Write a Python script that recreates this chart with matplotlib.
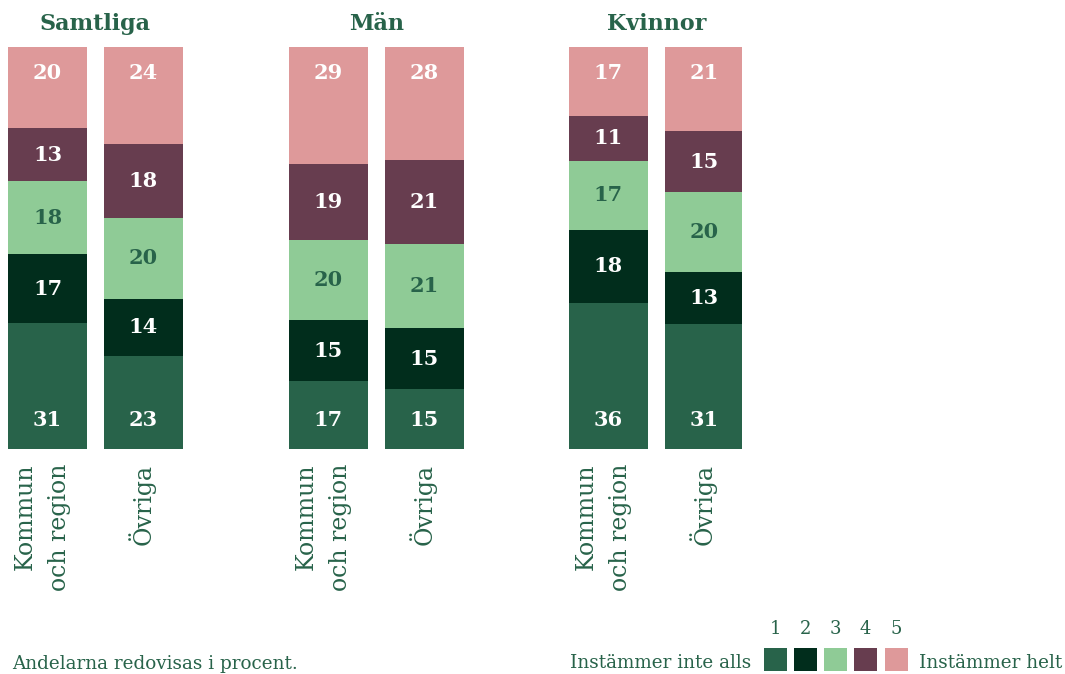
import matplotlib
matplotlib.use("Agg")
import matplotlib.pyplot as plt
from matplotlib.patches import Rectangle
import numpy as np

groups = ["Samtliga", "Män", "Kvinnor"]
bar_labels = ["Kommun\noch region", "Övriga"]
levels = ["1", "2", "3", "4", "5"]
# values per group: [Kommun och region, Övriga], levels 1..5 bottom to top
samtliga = [[31, 17, 18, 13, 20], [23, 14, 20, 18, 24]]
man = [[17, 15, 20, 19, 29], [15, 15, 21, 21, 28]]
kvinnor = [[36, 18, 17, 11, 17], [31, 13, 20, 15, 21]]
data = [samtliga, man, kvinnor]
legend_low = "Instämmer inte alls"
legend_high = "Instämmer helt"
footnote = "Andelarna redovisas i procent."

colors = ["#28634a", "#012d1c", "#8fcb96", "#673d4f", "#de999a"]
text_colors = ["white", "white", "#28634a", "white", "white"]
green = "#28634a"
FONT = "DejaVu Serif"

W, H = 1065, 674
fig = plt.figure(figsize=(W / 100, H / 100), dpi=100)

ax_left, ax_right, ax_top, ax_bottom = 8, 742, 47, 449
ax = fig.add_axes([ax_left / W, 1 - ax_bottom / H, (ax_right - ax_left) / W, (ax_bottom - ax_top) / H])
ax.set_xlim(ax_left, ax_right)
ax.set_ylim(0, 100)
ax.axis("off")

bar_w = 79
group_starts = [8, 289, 569]
bar_step = 95.5
label_shift = [-5, -1.5]

px_per_unit = (ax_bottom - ax_top) / 100.0

for gi, (gname, gvals) in enumerate(zip(groups, data)):
    centers = []
    for bi, vals in enumerate(gvals):
        vals = np.array(vals, dtype=float)
        scaled = vals / vals.sum() * 100
        x0 = group_starts[gi] + bi * bar_step
        xc = x0 + bar_w / 2
        centers.append(xc)
        bottoms = np.concatenate([[0], np.cumsum(scaled)[:-1]])
        ax.bar(xc, scaled, width=bar_w, bottom=bottoms, color=colors, linewidth=0)
        for li in range(len(vals)):
            if li == 0:
                y = bottoms[li] + 29 / px_per_unit
            elif li == len(vals) - 1:
                y = 100 - 26 / px_per_unit
            else:
                y = bottoms[li] + scaled[li] / 2
            ax.text(xc, y, f"{int(vals[li])}", ha="center", va="center",
                    color=text_colors[li], fontsize=15, fontweight="bold", family=FONT)
        # category label
        fig.text((xc + label_shift[bi]) / W, 1 - 464 / H, bar_labels[bi], rotation=90,
                 ha="center", va="top", multialignment="right", color=green,
                 fontsize=17, family=FONT, linespacing=1.65)
    gc = (centers[0] + centers[1]) / 2
    fig.text(gc / W, 1 - 24 / H, gname, ha="center", va="center", color=green,
             fontsize=16, fontweight="bold", family=FONT)

# footnote
fig.text(12 / W, 1 - 664 / H, footnote, ha="left", va="center", color=green,
         fontsize=13.2, family=FONT)

# legend
sq = 23
sq_x = [764, 794, 824, 854, 885]
sq_top = 648
for i, (x, c) in enumerate(zip(sq_x, colors)):
    fig.patches.append(Rectangle((x / W, 1 - (sq_top + sq) / H), sq / W, sq / H,
                                 transform=fig.transFigure, color=c, linewidth=0))
    fig.text((x + sq / 2) / W, 1 - 629 / H, levels[i], ha="center", va="center",
             color=green, fontsize=13, family=FONT)
fig.text(751 / W, 1 - 663 / H, legend_low, ha="right", va="center", color=green,
         fontsize=13.2, family=FONT)
fig.text(919 / W, 1 - 663 / H, legend_high, ha="left", va="center", color=green,
         fontsize=13.2, family=FONT)

fig.savefig("out.png", dpi=100)
